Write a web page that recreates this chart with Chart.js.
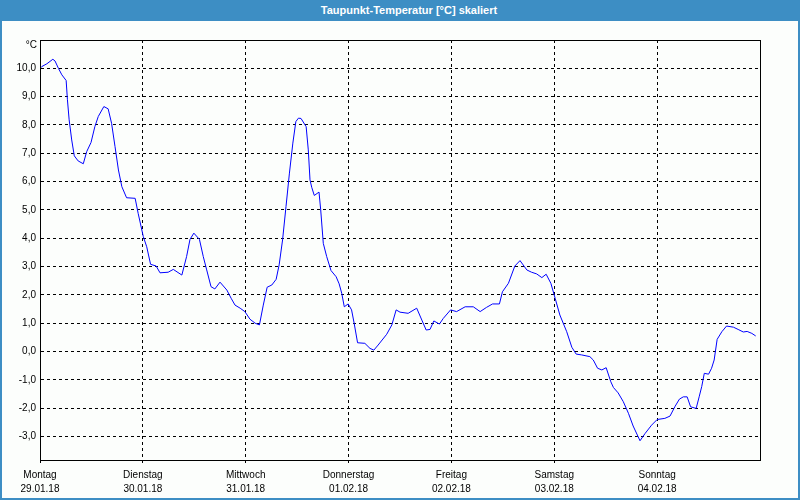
<!DOCTYPE html>
<html><head><meta charset="utf-8">
<script src="https://cdn.jsdelivr.net/npm/chart.js@4"></script>
<style>
html,body{margin:0;padding:0;background:#fcfefc;}
#frame{position:absolute;left:0;top:0;width:800px;height:500px;box-sizing:border-box;border:2px solid #3d8ec4;background:#fcfefc;}
#title{position:absolute;left:0;top:0;width:800px;height:21px;box-sizing:border-box;padding-left:18px;background:#3d8ec4;color:#fff;font:bold 11px "Liberation Sans",Arial,sans-serif;line-height:21px;text-align:center;}
canvas{position:absolute;left:0;top:0;}
</style></head>
<body>
<div id="frame"></div>
<div id="title">Taupunkt-Temperatur [°C] skaliert</div>
<canvas id="c" width="800" height="500"></canvas>
<script>
// hours since Monday 29.01.18 00:00
const hours = [0,0.4,1.6,3.0,3.5,4.3,5.1,6.1,6.4,6.8,7.4,8.0,8.9,10.1,10.9,11.9,12.8,13.6,14.9,15.9,16.7,17.5,18.3,19.1,20.2,22.2,22.9,
24.1,24.9,25.8,27.1,28.0,29.9,31.1,33.1,34.2,35.0,35.9,37.2,38.1,38.9,39.9,40.8,42.0,43.6,44.6,45.5,46.7,47.8,
49.0,50.2,51.2,52.1,53.0,54.1,55.1,55.8,56.6,57.4,58.2,59.0,59.7,60.3,60.9,62.1,62.6,63.0,63.4,64.0,65.1,65.5,66.1,66.9,67.9,69.1,69.8,70.4,71.0,71.9,
72.7,73.3,74.1,75.8,77.0,77.9,78.9,80.9,82.1,83.1,84.0,85.9,87.9,89.1,90.1,91.0,91.9,93.2,94.1,95.8,
97.2,99.2,101.1,102.7,104.2,105.6,107.2,107.9,109.3,110.8,112.0,113.6,114.7,115.9,117.1,118.1,119.2,
120.2,121.3,122.9,124.1,125.1,126.4,128.3,129.1,130.1,131.1,132.1,133.2,133.8,134.9,136.1,137.3,138.4,140.0,141.2,142.7,
144.0,145.8,147.0,148.2,149.2,150.1,151.0,151.8,153.1,153.8,154.4,155.0,156.0,156.7,157.3,158.0,159.1,160.2,161.8,162.9,164.1,165.0,166.1,167.0];
const dewPoint = [10.0,10.06,10.16,10.32,10.26,10.0,9.77,9.57,8.89,8.18,7.47,6.91,6.73,6.63,7.06,7.38,7.94,8.30,8.65,8.57,8.06,7.24,6.41,5.82,5.43,5.41,4.88,
4.06,3.70,3.08,3.02,2.78,2.80,2.90,2.70,3.35,3.96,4.18,3.96,3.35,2.88,2.29,2.21,2.45,2.17,1.88,1.64,1.53,1.41,
1.14,1.00,0.94,1.64,2.27,2.35,2.55,3.06,3.94,5.12,6.30,7.36,8.12,8.24,8.23,7.94,7.12,6.06,5.80,5.51,5.63,5.00,3.82,3.35,2.86,2.64,2.39,2.06,1.58,1.68,
1.47,1.00,0.31,0.29,0.11,0.05,0.23,0.61,0.94,1.47,1.39,1.35,1.53,1.11,0.76,0.78,1.08,0.97,1.17,1.47,
1.41,1.58,1.58,1.41,1.56,1.68,1.68,2.11,2.41,3.02,3.21,2.88,2.80,2.74,2.61,2.73,2.41,
1.88,1.29,0.70,0.15,-0.09,-0.12,-0.18,-0.30,-0.59,-0.65,-0.57,-1.07,-1.27,-1.46,-1.77,-2.18,-2.63,-3.15,-2.89,-2.60,
-2.40,-2.36,-2.28,-1.93,-1.68,-1.60,-1.60,-1.95,-2.01,-1.60,-1.24,-0.77,-0.80,-0.59,-0.30,0.43,0.70,0.90,0.86,0.78,0.69,0.71,0.64,0.55];
const dayNames = ['Montag','Dienstag','Mittwoch','Donnerstag','Freitag','Samstag','Sonntag'];
const dayDates = ['29.01.18','30.01.18','31.01.18','01.02.18','02.02.18','03.02.18','04.02.18'];
const dayTicks = [0,24,48,72,96,120,144];
const yTicks = [-3,-2,-1,0,1,2,3,4,5,6,7,8,9,10];
const yMin = -3.83, yMax = 11.0;
const unitLabel = '°C';

const FONT = '"Liberation Sans", Arial, sans-serif';

const framePlugin = {
  id: 'frameBox',
  afterDraw(c) {
    const {ctx, chartArea: a} = c;
    ctx.save();
    ctx.strokeStyle = '#000';
    ctx.lineWidth = 1;
    ctx.setLineDash([]);
    ctx.strokeRect(Math.round(a.left) + 0.5, Math.round(a.top) + 0.5, Math.round(a.right - a.left), Math.round(a.bottom - a.top));
    ctx.fillStyle = '#000';
    ctx.font = '10px ' + FONT;
    ctx.textAlign = 'right';
    ctx.textBaseline = 'middle';
    ctx.fillText(unitLabel, a.left - 3, a.top + 5);
    ctx.restore();
  }
};

new Chart(document.getElementById('c'), {
  type: 'line',
  data: {
    datasets: [{
      data: hours.map((h, i) => ({x: h, y: dewPoint[i]})),
      borderColor: '#0000ff',
      borderWidth: 1,
      pointRadius: 0,
      tension: 0,
      fill: false
    }]
  },
  options: {
    responsive: false,
    animation: false,
    devicePixelRatio: 1,
    layout: {padding: {left: 0, top: 40, right: 40, bottom: 0}},
    plugins: {legend: {display: false}, tooltip: {enabled: false}, title: {display: false}},
    scales: {
      x: {
        type: 'linear', min: 0, max: 168,
        afterBuildTicks: s => { s.ticks = dayTicks.map(v => ({value: v})); },
        afterFit: s => { s.height = 40; },
        ticks: {
          autoSkip: false, maxRotation: 0, minRotation: 0, padding: 5, color: '#000',
          font: {family: FONT, size: 10, lineHeight: 1.4},
          callback: v => { const i = Math.round(v / 24); return i < 7 ? [dayNames[i], dayDates[i]] : ''; }
        },
        grid: {color: '#000', lineWidth: 1, drawTicks: true, tickLength: 3, tickColor: '#000', tickBorderDash: []},
        border: {display: true, color: '#000', width: 1, dash: [3, 3]}
      },
      y: {
        min: yMin, max: yMax,
        afterBuildTicks: s => { s.ticks = yTicks.map(v => ({value: v})); },
        afterFit: s => { s.width = 40; },
        ticks: {
          padding: 4, color: '#000',
          font: {family: FONT, size: 10},
          callback: v => v.toFixed(1).replace('.', ',')
        },
        grid: {color: '#000', lineWidth: 1, drawTicks: false},
        border: {display: true, color: '#000', width: 1, dash: [3, 3]}
      }
    }
  },
  plugins: [framePlugin]
});
</script>
</body></html>
